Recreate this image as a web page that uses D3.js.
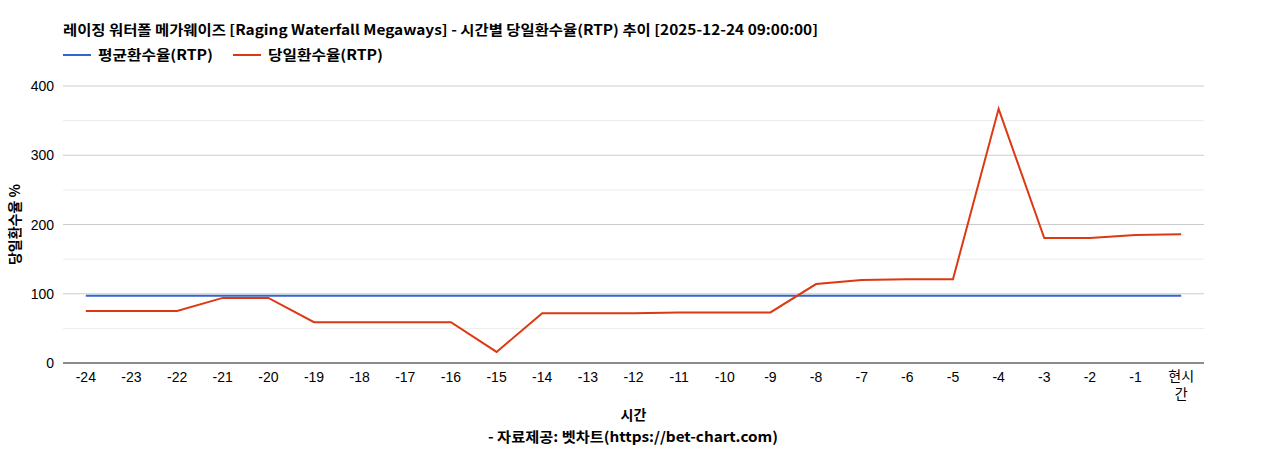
<!DOCTYPE html>
<html><head><meta charset="utf-8">
<script src="https://cdn.jsdelivr.net/npm/d3@7"></script>
<style>body{margin:0;background:#fff;font-family:"Noto Sans CJK KR","Noto Sans",sans-serif}</style>
</head><body><div id="chart"></div>
<script>
const categories = ["-24","-23","-22","-21","-20","-19","-18","-17","-16","-15","-14","-13","-12","-11","-10","-9","-8","-7","-6","-5","-4","-3","-2","-1","현시간"];
const dailyRtp = [75,75,75,94,94,59,59,59,59,16,72,72,72,73,73,73,114,120,121,121,367,180.5,180.5,185,186];
const avgRtp = categories.map(() => 97);
const yTicks = [0,100,200,300,400];

const width = 1268, height = 450;
const margin = {left: 63, right: 64, top: 86, bottom: 87};
const svg = d3.select("#chart").append("svg").attr("width", width).attr("height", height);

const x = d3.scaleBand().domain(categories).range([margin.left, width - margin.right]);
const y = d3.scaleLinear().domain([0, 400]).range([height - margin.bottom, margin.top]);

svg.append("text").attr("x", 63).attr("y", 35).attr("font-size", 14).attr("font-weight", "bold")
    .attr("textLength", 755).attr("lengthAdjust", "spacingAndGlyphs")
    .text("레이징 워터폴 메가웨이즈 [Raging Waterfall Megaways] - 시간별 당일환수율(RTP) 추이 [2025-12-24 09:00:00]");

const legend = [["평균환수율(RTP)", "#3366cc", 63], ["당일환수율(RTP)", "#dc3912", 233]];
legend.forEach(([t, c, lx]) => {
    svg.append("line").attr("x1", lx).attr("x2", lx + 28).attr("y1", 55).attr("y2", 55).attr("stroke", c).attr("stroke-width", 2);
    svg.append("text").attr("x", lx + 35).attr("y", 60).attr("font-size", 14).attr("font-weight", "bold")
        .attr("textLength", 115).attr("lengthAdjust", "spacingAndGlyphs").text(t);
});

// grid
d3.range(0, 401, 50).forEach(v => {
    svg.append("line").attr("x1", margin.left).attr("x2", width - margin.right)
        .attr("y1", y(v)).attr("y2", y(v)).attr("stroke", v % 100 ? "#ebebeb" : "#cccccc");
});
svg.append("line").attr("x1", margin.left).attr("x2", width - margin.right)
    .attr("y1", y(0)).attr("y2", y(0)).attr("stroke", "#333");

yTicks.forEach(v => svg.append("text").attr("x", 54).attr("y", y(v) + 5).attr("text-anchor", "end")
    .attr("font-size", 14).attr("font-family", "Arial,Liberation Sans").text(v));

categories.forEach(c => {
    const cx = x(c) + x.bandwidth() / 2;
    if (c === "현시간") {
        svg.append("text").attr("x", cx).attr("y", 381).attr("text-anchor", "middle").attr("font-size", 14).text("현시");
        svg.append("text").attr("x", cx).attr("y", 399).attr("text-anchor", "middle").attr("font-size", 14).text("간");
    } else {
        svg.append("text").attr("x", cx).attr("y", 382).attr("text-anchor", "middle").attr("font-size", 14)
            .attr("font-family", "Arial,Liberation Sans").text(c);
    }
});

const line = d3.line().x((d, i) => x(categories[i]) + x.bandwidth() / 2).y(d => y(d));
svg.append("path").datum(avgRtp).attr("d", line).attr("fill", "none").attr("stroke", "#3366cc").attr("stroke-width", 2);
svg.append("path").datum(dailyRtp).attr("d", line).attr("fill", "none").attr("stroke", "#dc3912").attr("stroke-width", 2);

svg.append("text").attr("x", (margin.left + width - margin.right) / 2).attr("y", 420).attr("text-anchor", "middle")
    .attr("font-size", 14).attr("font-weight", "bold").text("시간");
svg.append("text").attr("x", 488).attr("y", 442)
    .attr("font-size", 14).attr("font-weight", "bold").attr("textLength", 290).attr("lengthAdjust", "spacingAndGlyphs")
    .text("- 자료제공: 벳차트(https://bet-chart.com)");
svg.append("text").attr("transform", `translate(20,${(margin.top + height - margin.bottom) / 2}) rotate(-90)`)
    .attr("text-anchor", "middle").attr("font-size", 14).attr("font-weight", "bold").text("당일환수율 %");
</script></body></html>
